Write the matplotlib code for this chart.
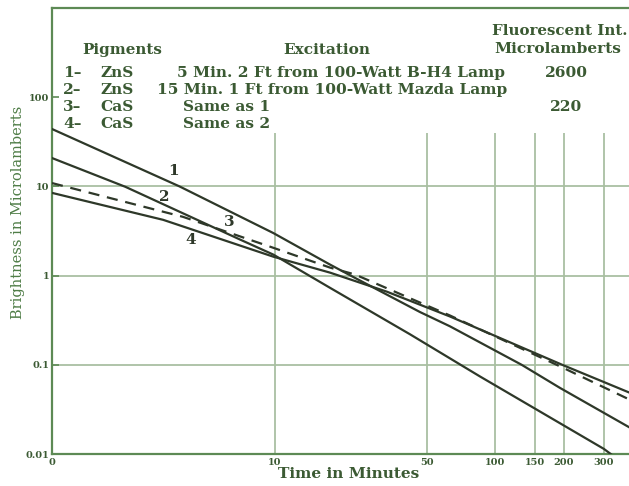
import numpy as np
import matplotlib
matplotlib.use("Agg")
import matplotlib.pyplot as plt

# ---- data ----
t1 = [0, 3.1, 9.8, 18.2, 23.2, 46.6, 63.3, 131, 193, 386]
v1 = [44, 10, 3.0, 1.33, 0.97, 0.39, 0.27, 0.10, 0.055, 0.020]

t2 = [0, 1.3, 6.7, 9.8, 18.2, 42.0, 85.9, 300, 330]
v2 = [20.8, 9.9, 2.53, 1.72, 0.73, 0.22, 0.074, 0.0114, 0.0095]

t3 = [0, 3.25, 9.8, 18.2, 23.7, 63.3, 193, 386]
v3 = [10.9, 4.56, 2.05, 1.23, 1.03, 0.357, 0.096, 0.041]

t4 = [0, 2.45, 9.8, 18.2, 33.1, 63.3, 199, 386]
v4 = [8.46, 4.22, 1.63, 1.08, 0.66, 0.348, 0.099, 0.049]

x_ticks = [0, 10, 50, 100, 150, 200, 300]
x_ticklabels = ["0", "10", "50", "100", "150", "200", "300"]
y_ticks = [0.01, 0.1, 1, 10, 100]
y_ticklabels = ["0.01", "0.1", "1", "10", "100"]
h_grid = [0.1, 1, 10]
v_grid = [10, 50, 100, 150, 200, 300]

pigment_nums = ["1–", "2–", "3–", "4–"]
pigments = ["ZnS", "ZnS", "CaS", "CaS"]
excitations = ["5 Min. 2 Ft from 100-Watt B-H4 Lamp",
               "15 Min. 1 Ft from 100-Watt Mazda Lamp",
               "Same as 1", "Same as 2"]
fluor = ["2600", "", "220", ""]

# ---- styling ----
W, H = 629, 486
TXT = "#3b5a33"
LINE = "#2e3829"
GRID = "#a9bfa2"
FRAME = "#5d8a55"
SERIF = "DejaVu Serif"

fig = plt.figure(figsize=(W / 100, H / 100), dpi=100)
fig.patch.set_facecolor("white")
L, R, B, T = 52, 629, 454, 8
ax = fig.add_axes([L / W, 1 - B / H, (R - L) / W, (B - T) / H])

C = 1.2
ax.set_xscale("function", functions=(lambda t: np.log10(np.asarray(t) + C),
                                     lambda y: 10 ** np.asarray(y) - C))
ax.set_yscale("log")
ax.set_xlim(0, 386)
ax.set_ylim(0.01, 1000)

# grid
for g in h_grid:
    ax.axhline(g, color=GRID, lw=1.3, zorder=1)
ax.vlines(v_grid, 0.01, 40, color=GRID, lw=1.3, zorder=1)

# curves
ax.plot(t1, v1, color=LINE, lw=1.6, zorder=3)
ax.plot(t2, v2, color=LINE, lw=1.6, zorder=3)
ax.plot(t3, v3, color=LINE, lw=1.6, ls=(0, (5, 3.5)), zorder=3)
ax.plot(t4, v4, color=LINE, lw=1.6, zorder=3)

# spines
for s in ["left", "bottom", "top"]:
    ax.spines[s].set_color(FRAME)
    ax.spines[s].set_linewidth(1.6)
ax.spines["right"].set_visible(False)

ax.set_xticks(x_ticks)
ax.set_xticklabels(x_ticklabels, fontsize=7, fontweight="bold", color=TXT, family=SERIF)
ax.set_yticks(y_ticks)
ax.set_yticklabels(y_ticklabels, fontsize=7, fontweight="bold", color=TXT, family=SERIF)
ax.minorticks_off()
ax.tick_params(axis="y", direction="in", length=5, color=FRAME, pad=2, width=1.2)
ax.tick_params(axis="x", direction="in", length=0, pad=3)

renderer = fig.canvas.get_renderer()


def px(x, y):
    return x / W, 1 - y / H


def ftext(x, y, s, ha="left", size=11, weight="bold", color=TXT, width=None,
          rotation=0):
    t = fig.text(*px(x, y), s, ha=ha, va="center", fontsize=size,
                 fontweight=weight, color=color, family=SERIF, rotation=rotation)
    if width is not None:
        bb = t.get_window_extent(renderer)
        cur = bb.height if rotation else bb.width
        t.set_fontsize(size * width / cur)
    return t


# axis labels
ftext(349, 474, "Time in Minutes", ha="center", width=142)
ftext(18, 212, "Brightness in Microlamberts", ha="center", width=213,
      rotation=90, color="#4f7d47", weight="normal")

# header table
ftext(82, 50, "Pigments", width=80)
ftext(327, 50, "Excitation", ha="center", width=87)
ftext(560, 31, "Fluorescent Int.", ha="center", width=135)
ftext(558, 49, "Microlamberts", ha="center", width=127)
rows_y = [73, 90, 107, 124]
# size of row text: fit the longest row to its width in the reference
ref_row = ftext(157, rows_y[1], excitations[1], width=348)
row_size = ref_row.get_fontsize()
for i in range(4):
    ftext(63, rows_y[i], pigment_nums[i], size=row_size)
    ftext(100, rows_y[i], pigments[i], size=row_size)
    if i == 0:
        ftext(505, rows_y[i], excitations[i], ha="right", size=row_size)
    elif i > 1:
        ftext(183, rows_y[i], excitations[i], size=row_size)
    if fluor[i]:
        ftext(566, rows_y[i], fluor[i], ha="center", size=row_size)

# curve labels
for lab, (x, y) in zip(["1", "2", "3", "4"],
                       [(174, 171), (164, 197), (229, 222), (191, 240)]):
    ftext(x, y, lab, ha="center", size=11, color=LINE)

fig.savefig("out.png", dpi=100)
